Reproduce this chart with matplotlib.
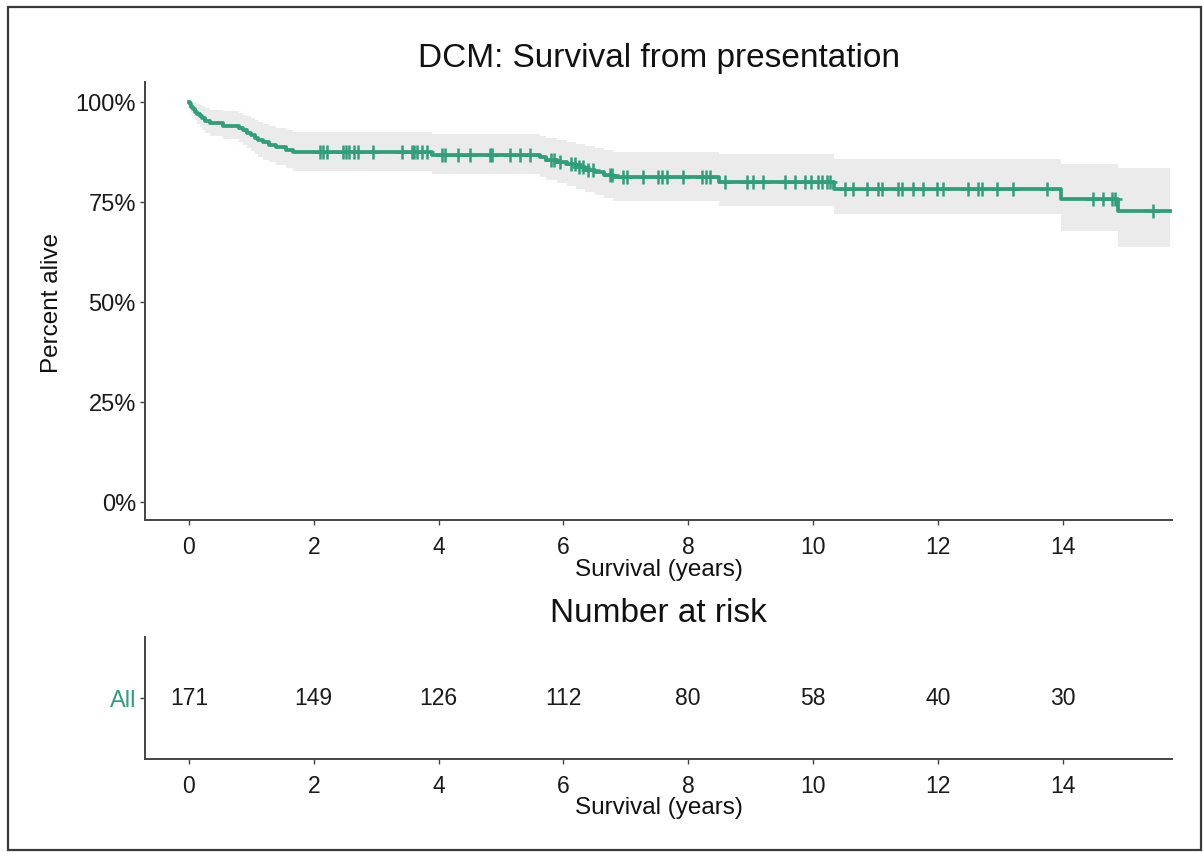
import matplotlib
matplotlib.use('Agg')
import matplotlib.pyplot as plt
from matplotlib.patches import Rectangle
import numpy as np

plt.rcParams['font.family'] = ['Liberation Sans', 'DejaVu Sans']

# ---------------- data ----------------
times = [0.00, 0.02, 0.04, 0.07, 0.10, 0.13, 0.17, 0.21, 0.26, 0.33, 0.55, 0.80,
         0.87, 0.93, 1.00, 1.06, 1.10, 1.18, 1.28, 1.40, 1.55, 1.67, 3.90, 5.62,
         5.72, 5.90, 6.05, 6.20, 6.35, 6.50, 6.65, 6.80, 8.50, 10.33, 13.97, 14.89]
surv = [100.0, 99.4, 98.8, 98.2, 97.6, 97.1, 96.5, 95.9, 95.3, 94.7, 94.1, 93.5,
        92.9, 92.3, 91.7, 91.1, 90.5, 89.9, 89.3, 88.7, 88.1, 87.5, 86.8, 86.2,
        85.6, 85.0, 84.4, 83.7, 83.1, 82.5, 81.8, 81.2, 80.1, 78.2, 75.7, 72.8]
lower = [100.0, 98.3, 97.2, 96.2, 95.4, 94.6, 93.8, 93.0, 92.2, 91.4, 90.7, 90.0,
         89.2, 88.4, 87.7, 87.0, 86.3, 85.6, 84.9, 84.2, 83.5, 82.8, 82.0, 81.2,
         80.5, 79.7, 79.0, 78.3, 77.5, 76.8, 76.0, 75.3, 73.9, 72.0, 67.8, 63.6]
upper = [100.0, 100.0, 100.0, 100.0, 99.9, 99.6, 99.3, 98.9, 98.5, 98.1, 97.7, 97.3,
         96.8, 96.4, 96.0, 95.5, 95.0, 94.5, 94.1, 93.6, 93.1, 92.6, 92.0, 91.5,
         91.0, 90.5, 90.0, 89.5, 89.0, 88.5, 88.0, 87.4, 87.0, 85.7, 84.5, 83.4]
end_time = 15.72

censor_times = [2.10, 2.14, 2.21, 2.47, 2.52, 2.57, 2.64, 2.71, 2.95, 3.41, 3.57,
                3.61, 3.65, 3.73, 3.81,
                4.05, 4.10, 4.31, 4.50, 4.82, 4.86, 5.14, 5.30, 5.46,
                5.80, 5.85, 5.95, 6.12, 6.18, 6.25, 6.32, 6.40, 6.48, 6.75, 6.78,
                6.96, 7.02, 7.28, 7.52, 7.58, 7.66, 7.91, 8.22, 8.28, 8.35,
                8.59, 8.94, 9.04, 9.20, 9.55, 9.71, 9.87, 9.97, 10.08, 10.14, 10.22, 10.28,
                10.51, 10.64, 10.87, 11.04, 11.11, 11.36, 11.43, 11.60, 11.76, 11.99,
                12.08, 12.48, 12.64, 12.71, 12.95, 13.21, 13.75,
                14.49, 14.65, 14.79, 14.84, 15.45]

risk_times = [0, 2, 4, 6, 8, 10, 12, 14]
risk_counts = [171, 149, 126, 112, 80, 58, 40, 30]
risk_group = 'All'

x_ticks = [0, 2, 4, 6, 8, 10, 12, 14]
y_ticks = [0, 25, 50, 75, 100]
y_tick_labels = ['0%', '25%', '50%', '75%', '100%']

title = 'DCM: Survival from presentation'
table_title = 'Number at risk'
x_label = 'Survival (years)'
y_label = 'Percent alive'

# ---------------- style ----------------
W, H = 1204, 853
GREEN = '#2f9e7a'
BAND = '#ebebeb'
SPINE = '#444444'
TICKFS = 16.5
LABFS = 17.5
TITLEFS = 24

def fx(px):
    return px / W

def fy(py):
    return 1 - py / H

fig = plt.figure(figsize=(W / 100, H / 100), dpi=100)

# main axes
ax = fig.add_axes([fx(145), fy(521), fx(1172) - fx(145), fy(83) - fy(521)])
t_ext = times + [end_time]
s_ext = surv + [surv[-1]]
lo_ext = lower + [lower[-1]]
up_ext = upper + [upper[-1]]
ax.fill_between(t_ext, lo_ext, up_ext, step='post', color=BAND, lw=0, zorder=1)
ax.step(t_ext, s_ext, where='post', color=GREEN, lw=2.7, zorder=3)
idx = np.searchsorted(np.array(times), np.array(censor_times), side='right') - 1
cens_y = np.array(surv)[idx]
ax.plot(censor_times, cens_y, ls='none', marker='+', ms=10, mew=1.8,
        color=GREEN, zorder=4)

ax.set_xlim(-0.705, 15.753)
ax.set_ylim(-4.58, 105.0)
ax.set_xticks(x_ticks)
ax.set_yticks(y_ticks)
ax.set_yticklabels(y_tick_labels)

for s in ['top', 'right']:
    ax.spines[s].set_visible(False)
for s in ['left', 'bottom']:
    ax.spines[s].set_color(SPINE)
    ax.spines[s].set_linewidth(1.4)
ax.tick_params(axis='both', length=3.5, width=1.0, color=SPINE,
               labelsize=TICKFS, labelcolor='#1a1a1a')
ax.tick_params(axis='x', pad=7)
ax.tick_params(axis='y', pad=3, labelsize=17)

# risk table axes
ax2 = fig.add_axes([fx(145), fy(760), fx(1172) - fx(145), fy(638) - fy(760)])
ax2.set_xlim(-0.705, 15.753)
ax2.set_ylim(0.5, 1.5)
for t, n in zip(risk_times, risk_counts):
    ax2.text(t, 1.0, str(n), ha='center', va='center', fontsize=TICKFS,
             color='#1a1a1a')
ax2.set_xticks(x_ticks)
ax2.set_yticks([1.0])
ax2.set_yticklabels([risk_group])
for s in ['top', 'right']:
    ax2.spines[s].set_visible(False)
for s in ['left', 'bottom']:
    ax2.spines[s].set_color(SPINE)
    ax2.spines[s].set_linewidth(1.4)
ax2.tick_params(axis='both', length=3.5, width=1.0, color=SPINE,
                labelsize=TICKFS, labelcolor='#1a1a1a')
ax2.tick_params(axis='x', pad=7)
ax2.tick_params(axis='y', pad=3, labelsize=17, labelcolor=GREEN)

# titles and labels
cx = (fx(145) + fx(1172)) / 2
fig.text(cx, fy(67), title, ha='center', va='baseline', fontsize=TITLEFS,
         color='#111111')
fig.text(cx, fy(576), x_label, ha='center', va='baseline', fontsize=LABFS,
         color='#111111')
fig.text(cx, fy(622), table_title, ha='center', va='baseline', fontsize=TITLEFS,
         color='#111111')
fig.text(cx, fy(814), x_label, ha='center', va='baseline', fontsize=LABFS,
         color='#111111')
fig.text(fx(52), fy(303), y_label, ha='center', va='center', rotation=90,
         fontsize=LABFS, color='#111111')

# outer frame
fig.patches.append(Rectangle((fx(8), fy(851)), fx(1201) - fx(8), fy(8) - fy(851),
                             transform=fig.transFigure, fill=False,
                             edgecolor='#3a3a3a', lw=1.6))

fig.savefig('out.png', dpi=100)
